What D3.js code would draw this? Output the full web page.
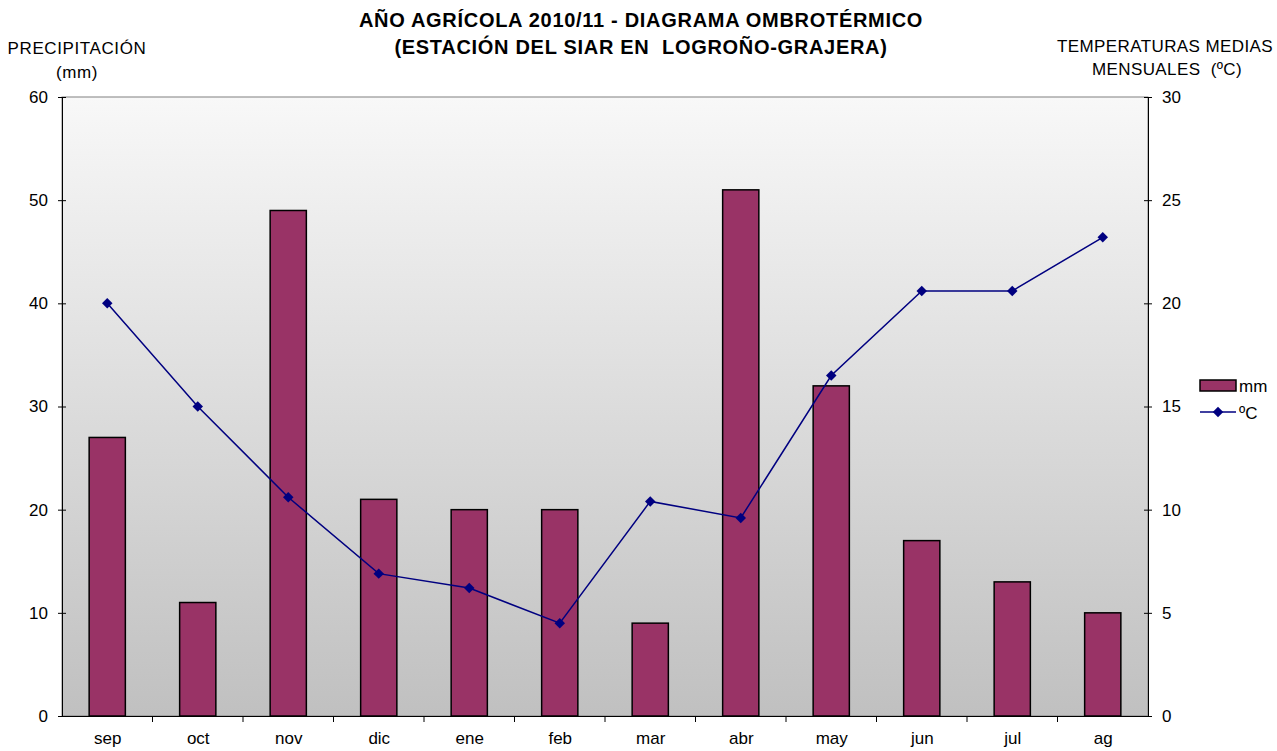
<!DOCTYPE html>
<html>
<head>
<meta charset="utf-8">
<style>
  body { margin: 0; background: #fff; }
  text { font-family: "Liberation Sans", Arial, sans-serif; fill: #000; }
  .axis text { font-size: 17px; }
  .axis path, .axis line { stroke: #000; }
  .bar { fill: #993366; stroke: #000; stroke-width: 1.5; }
  .line { fill: none; stroke: #000080; stroke-width: 1.5; }
  .dot { fill: #000080; }
</style>
<script src="https://d3js.org/d3.v7.min.js"></script>
</head>
<body>
<script>
var months = ["sep", "oct", "nov", "dic", "ene", "feb", "mar", "abr", "may", "jun", "jul", "ag"];
var rain = [27, 11, 49, 21, 20, 20, 9, 51, 32, 17, 13, 10];
var temp = [20.0, 15.0, 10.6, 6.9, 6.2, 4.5, 10.4, 9.6, 16.5, 20.6, 20.6, 23.2];
var rainTicks = [0, 10, 20, 30, 40, 50, 60];
var tempTicks = [0, 5, 10, 15, 20, 25, 30];

var W = 1277, H = 751;
var pLeft = 62, pRight = 1148, pTop = 97, pBottom = 716;

var svg = d3.select("body").append("svg")
    .attr("width", W).attr("height", H);

var defs = svg.append("defs");
var grad = defs.append("linearGradient")
    .attr("id", "bg").attr("x1", 0).attr("y1", 0).attr("x2", 0).attr("y2", 1);
grad.append("stop").attr("offset", "0%").attr("stop-color", "#f8f8f8");
grad.append("stop").attr("offset", "100%").attr("stop-color", "#c0c0c0");

var x = d3.scaleBand()
    .domain(months)
    .range([pLeft, pRight])
    .paddingInner(0.6)
    .paddingOuter(0.3);
var xPos = d3.scalePoint().domain(months).range([pLeft, pRight]).padding(0.5);
var yL = d3.scaleLinear().domain([0, 60]).range([pBottom, pTop]);
var yR = d3.scaleLinear().domain([0, 30]).range([pBottom, pTop]);

// plot area
svg.append("rect")
    .attr("x", pLeft).attr("y", pTop)
    .attr("width", pRight - pLeft).attr("height", pBottom - pTop)
    .attr("fill", "url(#bg)")
    .attr("stroke", "#808080").attr("stroke-width", 1);

// bars
svg.selectAll(".bar")
    .data(months)
    .enter().append("rect")
    .attr("class", "bar")
    .attr("x", function(d) { return x(d); })
    .attr("y", function(d, i) { return yL(rain[i]); })
    .attr("width", x.bandwidth())
    .attr("height", function(d, i) { return pBottom - yL(rain[i]); });

// axes
var axL = svg.append("g")
    .attr("class", "axis")
    .attr("transform", "translate(" + pLeft + ",0)")
    .call(d3.axisLeft(yL).tickValues(rainTicks).tickSize(4).tickSizeOuter(0).tickPadding(10));
axL.selectAll(".tick line").attr("x2", 4).attr("x1", -4);

var axR = svg.append("g")
    .attr("class", "axis")
    .attr("transform", "translate(" + pRight + ",0)")
    .call(d3.axisRight(yR).tickValues(tempTicks).tickSize(4).tickSizeOuter(0).tickPadding(10));
axR.selectAll(".tick line").attr("x1", -4).attr("x2", 4);

var axB = svg.append("g")
    .attr("class", "axis")
    .attr("transform", "translate(0," + pBottom + ")")
    .call(d3.axisBottom(xPos).tickSize(0).tickPadding(16));
axB.select(".domain").attr("d", "M" + (pLeft - 4) + ",0.5H" + pRight);

// category separators on x axis
var edges = months.map(function(d) { return xPos(d) - xPos.step() / 2; }).slice(1);
svg.selectAll(".xsep")
    .data(edges)
    .enter().append("line")
    .attr("x1", function(d) { return d; }).attr("x2", function(d) { return d; })
    .attr("y1", pBottom).attr("y2", pBottom + 6)
    .attr("stroke", "#000");

// temperature line
var line = d3.line()
    .x(function(d, i) { return xPos(months[i]); })
    .y(function(d) { return yR(d); });
svg.append("path")
    .attr("class", "line")
    .attr("d", line(temp));

var diamond = d3.symbol().type(d3.symbolDiamond2).size(70);
svg.selectAll(".dot")
    .data(temp)
    .enter().append("path")
    .attr("class", "dot")
    .attr("d", diamond)
    .attr("transform", function(d, i) {
      return "translate(" + xPos(months[i]) + "," + yR(d) + ")";
    });

// title
var title = svg.append("text")
    .attr("text-anchor", "middle")
    .attr("font-size", "20px")
    .attr("letter-spacing", "0.7px")
    .attr("font-weight", "bold");
title.append("tspan").attr("x", 641).attr("y", 27).text("AÑO AGRÍCOLA 2010/11 - DIAGRAMA OMBROTÉRMICO");
title.append("tspan").attr("x", 641).attr("y", 54).text("(ESTACIÓN DEL SIAR EN  LOGROÑO-GRAJERA)").style("white-space", "pre");

// axis titles
var lt = svg.append("text").attr("text-anchor", "middle").attr("font-size", "17px").attr("letter-spacing", "0.6px");
lt.append("tspan").attr("x", 77).attr("y", 54).text("PRECIPITACIÓN");
lt.append("tspan").attr("x", 77).attr("y", 78).text("(mm)");

var rt = svg.append("text").attr("text-anchor", "middle").attr("font-size", "17px").attr("letter-spacing", "0.4px");
rt.append("tspan").attr("x", 1165).attr("y", 52).text("TEMPERATURAS MEDIAS");
rt.append("tspan").attr("x", 1167).attr("y", 75).text("MENSUALES  (ºC)").style("white-space", "pre");

// legend
var lg = svg.append("g").attr("transform", "translate(1200,380)");
lg.append("rect").attr("class", "bar").attr("x", 0).attr("y", 0).attr("width", 36).attr("height", 11);
lg.append("text").attr("x", 39).attr("y", 12).attr("font-size", "17px").text("mm");
lg.append("line").attr("class", "line").attr("x1", 0).attr("x2", 36).attr("y1", 32).attr("y2", 32);
lg.append("path").attr("class", "dot").attr("d", diamond).attr("transform", "translate(18,32)");
lg.append("text").attr("x", 39).attr("y", 39).attr("font-size", "17px").text("ºC");
</script>
</body>
</html>
